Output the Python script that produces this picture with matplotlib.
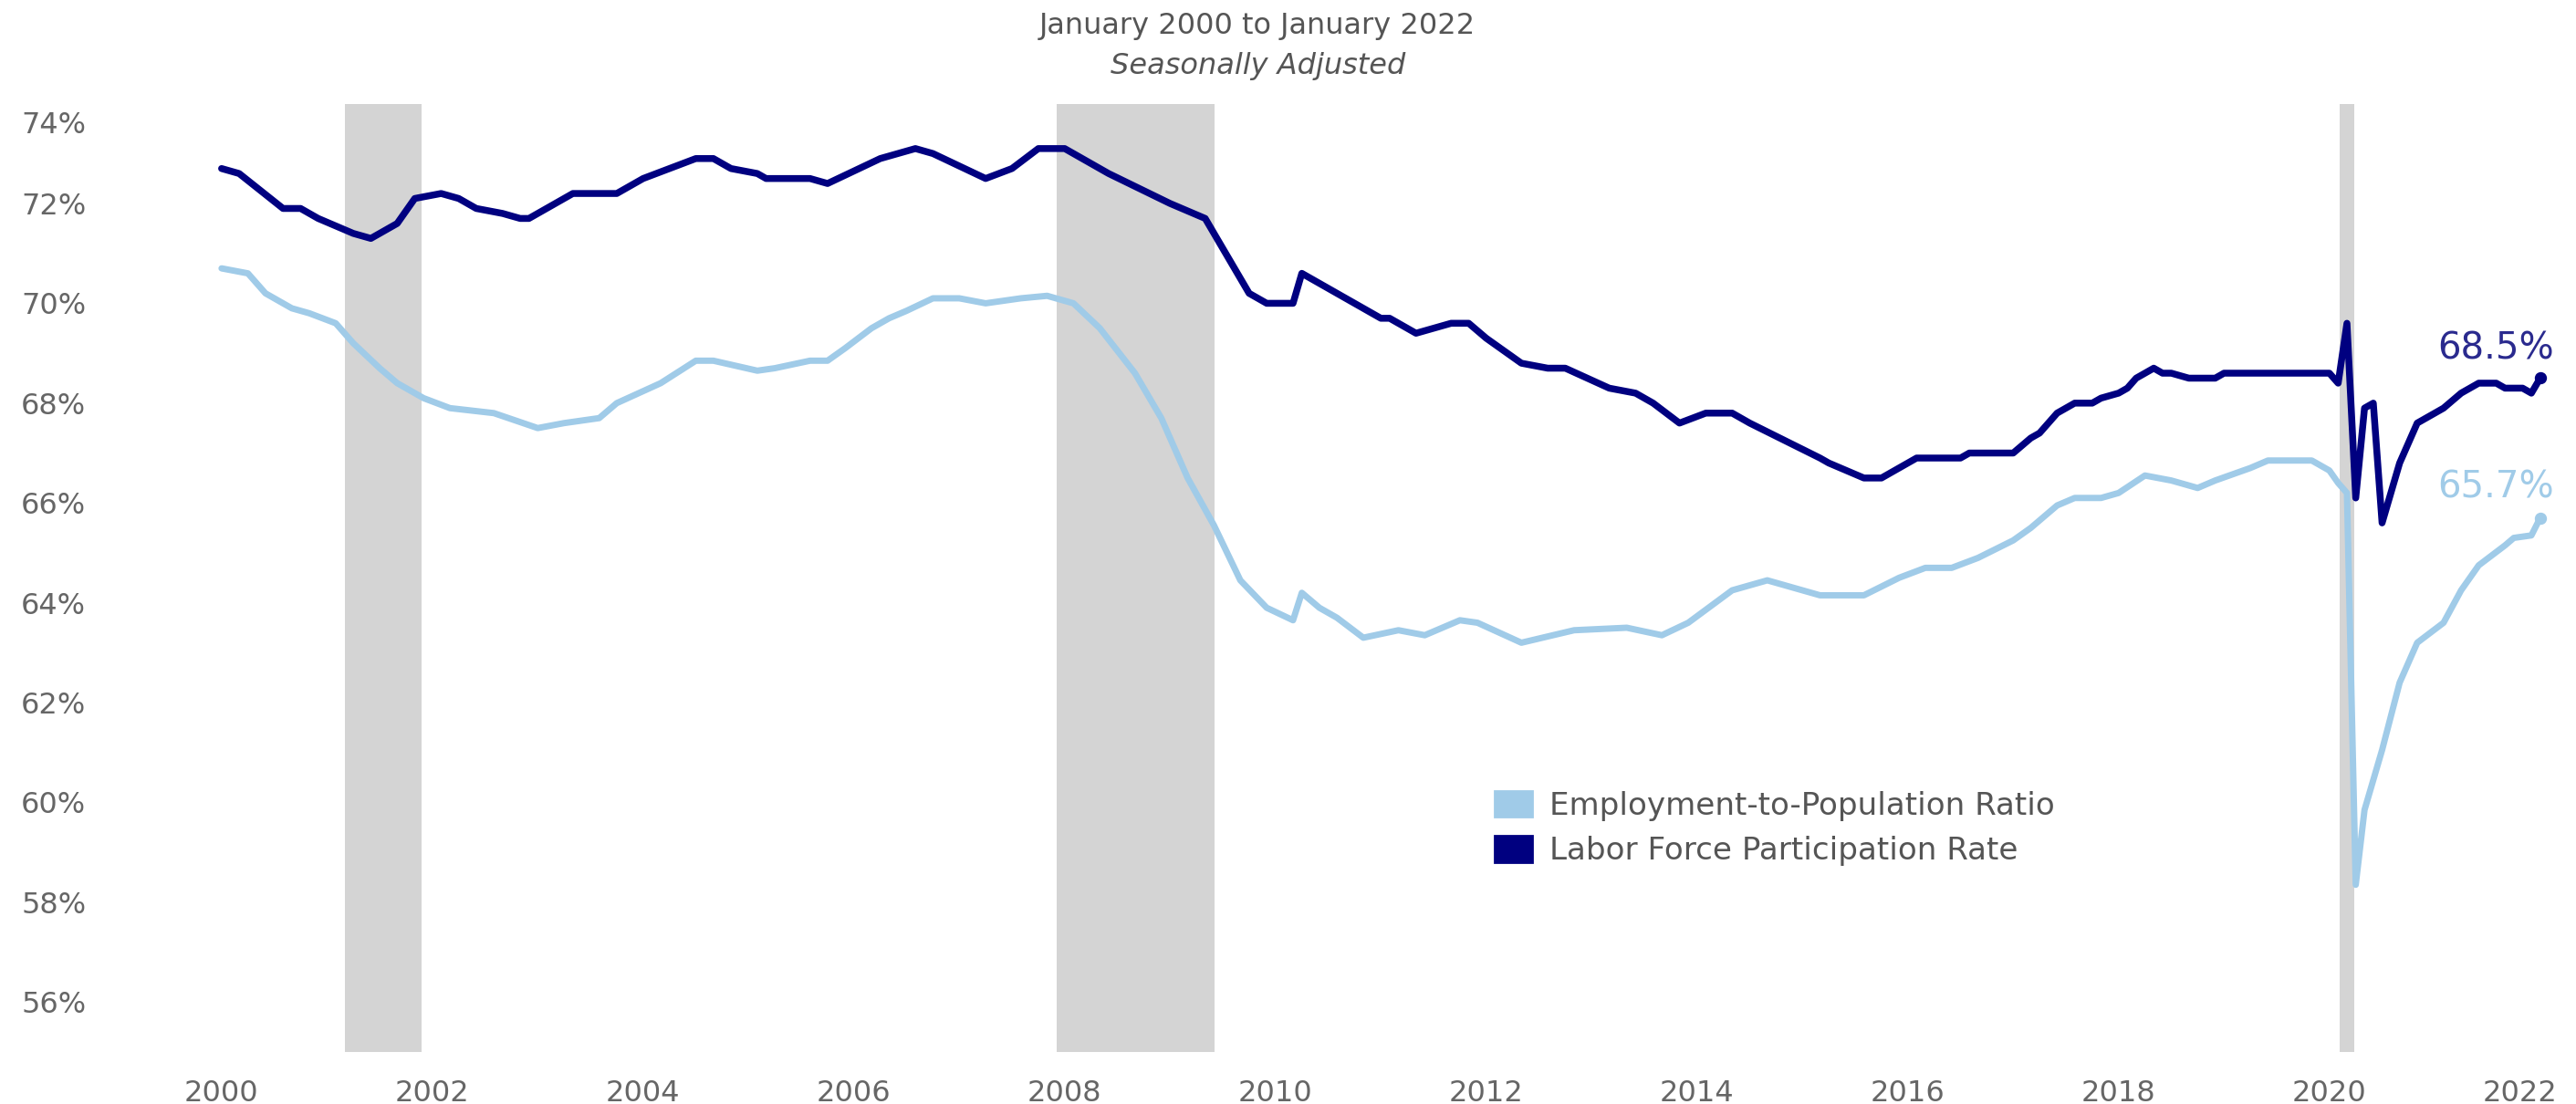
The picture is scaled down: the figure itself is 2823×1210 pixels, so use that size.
import matplotlib
matplotlib.use("Agg")
import matplotlib.pyplot as plt
from matplotlib.patches import Patch
from matplotlib import transforms

# values (percent), month as YYYY-MM
lfpr_dates = ["2000-01", "2000-03", "2000-08", "2000-10", "2000-12", "2001-04", "2001-06", "2001-09",
              "2001-11", "2002-02", "2002-04", "2002-06", "2002-09", "2002-11", "2002-12", "2003-05",
              "2003-10", "2004-01", "2004-04", "2004-07", "2004-09", "2004-11", "2005-02", "2005-03",
              "2005-08", "2005-10", "2006-04", "2006-06", "2006-08", "2006-10", "2007-04", "2007-07",
              "2007-10", "2008-01", "2008-06", "2009-01", "2009-05", "2009-10", "2009-12", "2010-03",
              "2010-04", "2010-08", "2011-01", "2011-02", "2011-05", "2011-07", "2011-09", "2011-11",
              "2012-01", "2012-05", "2012-08", "2012-10", "2013-03", "2013-06", "2013-08", "2013-11",
              "2014-02", "2014-05", "2014-07", "2015-03", "2015-04", "2015-08", "2015-10", "2016-02",
              "2016-07", "2016-08", "2017-01", "2017-03", "2017-04", "2017-06", "2017-08", "2017-10",
              "2017-11", "2018-01", "2018-02", "2018-03", "2018-05", "2018-06", "2018-07", "2018-09",
              "2018-12", "2019-01", "2020-01", "2020-02", "2020-03", "2020-04", "2020-05", "2020-06",
              "2020-07", "2020-09", "2020-11", "2021-02", "2021-04", "2021-06", "2021-08", "2021-09",
              "2021-11", "2021-12", "2022-01"]
lfpr_vals = [72.7, 72.6, 71.9, 71.9, 71.7, 71.4, 71.3, 71.6,
             72.1, 72.2, 72.1, 71.9, 71.8, 71.7, 71.7, 72.2,
             72.2, 72.5, 72.7, 72.9, 72.9, 72.7, 72.6, 72.5,
             72.5, 72.4, 72.9, 73.0, 73.1, 73.0, 72.5, 72.7,
             73.1, 73.1, 72.6, 72.0, 71.7, 70.2, 70.0, 70.0,
             70.6, 70.2, 69.7, 69.7, 69.4, 69.5, 69.6, 69.6,
             69.3, 68.8, 68.7, 68.7, 68.3, 68.2, 68.0, 67.6,
             67.8, 67.8, 67.6, 66.9, 66.8, 66.5, 66.5, 66.9,
             66.9, 67.0, 67.0, 67.3, 67.4, 67.8, 68.0, 68.0,
             68.1, 68.2, 68.3, 68.5, 68.7, 68.6, 68.6, 68.5,
             68.5, 68.6, 68.6, 68.4, 69.6, 66.1, 67.9, 68.0,
             65.6, 66.8, 67.6, 67.9, 68.2, 68.4, 68.4, 68.3,
             68.3, 68.2, 68.5]

epop_dates = ["2000-01", "2000-04", "2000-06", "2000-09", "2000-11", "2001-02", "2001-04", "2001-07",
              "2001-09", "2001-12", "2002-03", "2002-08", "2003-01", "2003-04", "2003-08", "2003-10",
              "2004-03", "2004-07", "2004-09", "2005-02", "2005-04", "2005-08", "2005-10", "2005-12",
              "2006-03", "2006-05", "2006-07", "2006-10", "2007-01", "2007-04", "2007-08", "2007-11",
              "2008-02", "2008-05", "2008-09", "2008-12", "2009-03", "2009-06", "2009-09", "2009-12",
              "2010-03", "2010-04", "2010-06", "2010-08", "2010-11", "2011-03", "2011-06", "2011-10",
              "2011-12", "2012-05", "2012-11", "2013-05", "2013-09", "2013-12", "2014-05", "2014-09",
              "2015-03", "2015-08", "2015-12", "2016-03", "2016-06", "2016-09", "2017-01", "2017-03",
              "2017-06", "2017-08", "2017-11", "2018-01", "2018-04", "2018-07", "2018-10", "2018-12",
              "2019-04", "2019-06", "2019-08", "2019-11", "2020-01", "2020-02", "2020-03", "2020-04",
              "2020-05", "2020-07", "2020-09", "2020-11", "2021-02", "2021-04", "2021-06", "2021-09",
              "2021-10", "2021-12", "2022-01"]
epop_vals = [70.7, 70.6, 70.2, 69.9, 69.8, 69.6, 69.2, 68.7,
             68.4, 68.1, 67.9, 67.8, 67.5, 67.6, 67.7, 68.0,
             68.4, 68.85, 68.85, 68.65, 68.7, 68.85, 68.85, 69.1,
             69.5, 69.7, 69.85, 70.1, 70.1, 70.0, 70.1, 70.15,
             70.0, 69.5, 68.6, 67.7, 66.5, 65.55, 64.45, 63.9,
             63.65, 64.2, 63.9, 63.7, 63.3, 63.45, 63.35, 63.65,
             63.6, 63.2, 63.45, 63.5, 63.35, 63.6, 64.25, 64.45,
             64.15, 64.15, 64.5, 64.7, 64.7, 64.9, 65.25, 65.5,
             65.95, 66.1, 66.1, 66.2, 66.55, 66.45, 66.3, 66.45,
             66.7, 66.85, 66.85, 66.85, 66.65, 66.4, 66.2, 58.35,
             59.85, 61.05, 62.4, 63.2, 63.6, 64.25, 64.75, 65.15,
             65.3, 65.35, 65.7]

recessions = [(2001.17, 2001.90), (2007.92, 2009.42), (2020.10, 2020.24)]
x_ticks = list(range(2000, 2023, 2))
y_ticks = list(range(56, 75, 2))

navy = "#000080"
light = "#a0cbe8"
grey_txt = "#666666"


def to_year(d):
    y, m = d.split("-")
    return int(y) + (int(m) - 1) / 12


lfpr_x = [to_year(d) for d in lfpr_dates]
epop_x = [to_year(d) for d in epop_dates]

W, H = 2823, 1210
fig = plt.figure(figsize=(W / 200, H / 200), dpi=200)
ax = fig.add_axes([125 / W, 1 - 1153 / H, 1 - 125 / W, (1153 - 113.6) / H])

for a, b in recessions:
    ax.axvspan(a, b, color="#d4d4d4", lw=0, zorder=0)

ax.plot(epop_x, epop_vals, color=light, lw=2.5, solid_joinstyle="round", solid_capstyle="round", zorder=2)
ax.plot(lfpr_x, lfpr_vals, color=navy, lw=2.7, solid_joinstyle="round", solid_capstyle="round", zorder=3)
ax.plot(epop_x[-1], epop_vals[-1], "o", color=light, ms=3.8, zorder=2)
ax.plot(lfpr_x[-1], lfpr_vals[-1], "o", color=navy, ms=3.8, zorder=3)

ax.annotate(f"{lfpr_vals[-1]:.1f}%", xy=(lfpr_x[-1], lfpr_vals[-1]), xytext=(5.4, 11.5),
            textcoords="offset points", ha="right", va="center", fontsize=14.5, color="#2a2a8e")
ax.annotate(f"{epop_vals[-1]:.1f}%", xy=(epop_x[-1], epop_vals[-1]), xytext=(5.4, 12),
            textcoords="offset points", ha="right", va="center", fontsize=14.5, color=light)

ax.set_xlim(1998.98, 2022.34)
ax.set_ylim(55, 74)
ax.set_xticks([])
ax.set_yticks([])
for s in ax.spines.values():
    s.set_visible(False)

# axis labels, Tableau style (edge labels pulled inward)
ytrans = transforms.blended_transform_factory(fig.transFigure, ax.transData)
for v in y_ticks:
    tr = ytrans
    if v == y_ticks[-1]:
        tr = transforms.offset_copy(ytrans, fig=fig, y=-20, units="dots")
    ax.text(23 / W, v, f"{v}%", transform=tr, ha="left", va="center_baseline",
            fontsize=11.5, color=grey_txt, clip_on=False)

xtrans = transforms.blended_transform_factory(ax.transData, fig.transFigure)
for yr in x_ticks:
    tr = xtrans
    if yr == x_ticks[-1]:
        tr = transforms.offset_copy(xtrans, fig=fig, x=-22, units="dots")
    ax.text(yr, 1 - 1195 / H, str(yr), transform=tr, ha="center", va="center_baseline",
            fontsize=11.5, color=grey_txt, clip_on=False)

fig.text(1378 / W, 1 - 25 / H, "January 2000 to January 2022", ha="center", va="center_baseline",
         fontsize=11.5, color="#555555")
fig.text(1379 / W, 1 - 69 / H, "Seasonally Adjusted", ha="center", va="center_baseline",
         fontsize=11.5, color="#555555", style="italic")

handles = [Patch(color=light), Patch(color=navy)]
fig.legend(handles, ["Employment-to-Population Ratio", "Labor Force Participation Rate"],
           loc="upper left", bbox_to_anchor=(1638 / W, 1 - 867 / H), frameon=False,
           borderpad=0, borderaxespad=0, handlelength=1.2, handleheight=0.9,
           handletextpad=0.55, labelspacing=0.48, fontsize=12.3, labelcolor="#555555")

fig.savefig("out.png", dpi=200)
